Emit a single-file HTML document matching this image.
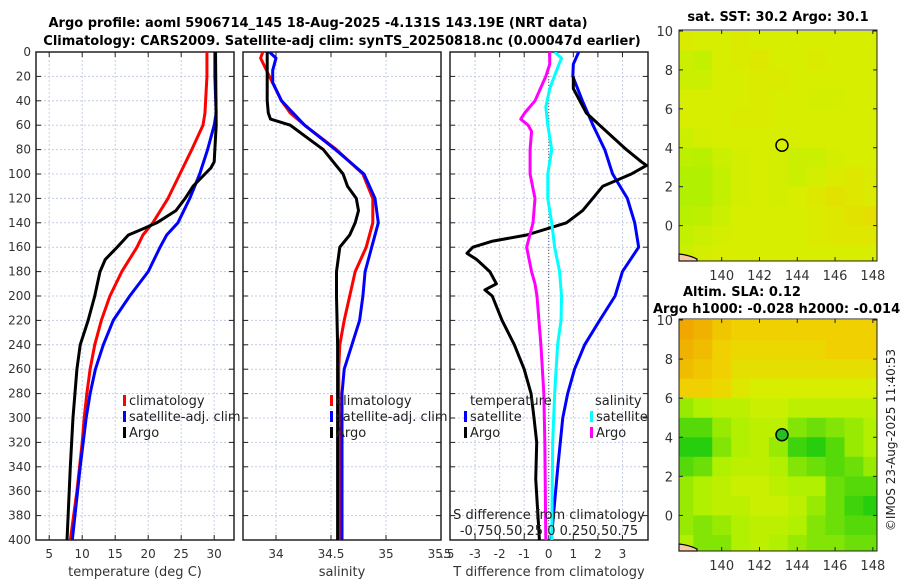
<!DOCTYPE html>
<html><head><meta charset="utf-8">
<style>
html,body{margin:0;padding:0;background:#fff;}
svg{display:block;font-family:"DejaVu Sans","Liberation Sans",sans-serif;}
</style></head>
<body>
<svg id="fig" width="900" height="580" viewBox="0 0 900 580" xmlns="http://www.w3.org/2000/svg">
<defs>
<clipPath id="c1"><rect x="36" y="52" width="198" height="488"/></clipPath>
<clipPath id="c2"><rect x="243" y="52" width="198" height="488"/></clipPath>
<clipPath id="c3"><rect x="450" y="52" width="198" height="488"/></clipPath>
<clipPath id="m1"><rect x="679" y="30" width="198" height="231"/></clipPath>
<clipPath id="m2"><rect x="679" y="319" width="198" height="232"/></clipPath>
</defs>
<text x="318" y="27" text-anchor="middle" font-size="13" font-weight="bold">Argo profile: aoml 5906714_145 18-Aug-2025 -4.131S 143.19E (NRT data)</text>
<text x="342" y="45" text-anchor="middle" font-size="13" font-weight="bold">Climatology: CARS2009. Satellite-adj clim: synTS_20250818.nc (0.00047d earlier)</text>
<g id="g1"></g>
<g id="g2"></g>
<g id="g3"></g>
<g id="gm1"></g>
<g id="gm2"></g>
<text x="778" y="21" text-anchor="middle" font-size="13" font-weight="bold">sat. SST: 30.2 Argo: 30.1</text>
<text x="683" y="296" font-size="13" font-weight="bold">Altim. SLA: 0.12</text>
<text x="653" y="313" font-size="13" font-weight="bold">Argo h1000: -0.028 h2000: -0.014</text>
<text transform="translate(895,440) rotate(-90)" text-anchor="middle" font-size="12" fill="#222">©IMOS 23-Aug-2025 11:40:53</text>
</svg>
<script>
const NS="http://www.w3.org/2000/svg";
// ---- data ----
const depthTicks=[0,20,40,60,80,100,120,140,160,180,200,220,240,260,280,300,320,340,360,380,400];
const tClimDepth=[0,20,50,60,80,100,120,140,150,160,180,200,220,240,260,280,300,320,340,360,400];
const tClim=[28.9,28.9,28.6,28.3,26.6,24.8,23.0,20.7,19.2,18.3,16.0,14.2,12.9,11.9,11.2,10.7,10.3,10.0,9.6,9.2,8.2];
const tSatDepth=[0,20,50,60,80,100,120,140,150,160,180,200,220,240,260,280,300,340,400];
const tSat=[30.1,30.1,30.3,30.0,29.0,27.8,26.3,24.5,22.8,21.8,20.0,17.2,14.7,13.2,12.0,11.2,10.6,9.7,8.5];
const tArgoDepth=[0,60,80,90,95,100,110,120,130,140,145,150,160,170,180,200,220,240,260,300,340,400];
const tArgo=[30.2,30.3,30.1,30.0,29.5,28.6,26.8,25.6,24.2,21.3,19.2,17.0,15.3,13.5,12.7,11.9,10.9,9.7,9.2,8.6,8.2,7.7];
const sClimDepth=[0,5,20,40,50,60,80,100,120,140,160,180,200,220,240,260,400];
const sClim=[33.88,33.86,33.94,34.05,34.13,34.26,34.55,34.79,34.88,34.88,34.82,34.72,34.67,34.62,34.58,34.57,34.58];
const sSatDepth=[0,5,15,25,40,60,80,100,120,140,160,180,200,220,240,260,280,400];
const sSat=[33.94,34.0,33.97,33.97,34.05,34.26,34.54,34.8,34.9,34.93,34.87,34.81,34.79,34.76,34.69,34.62,34.6,34.6];
const sArgoDepth=[0,20,40,50,55,60,70,80,90,100,110,120,130,140,150,160,180,200,240,400];
const sArgo=[33.92,33.92,33.92,33.93,33.95,34.13,34.28,34.43,34.52,34.61,34.65,34.73,34.75,34.72,34.67,34.58,34.55,34.55,34.56,34.56];
const dTSatDepth=[0,10,20,40,60,80,100,120,140,160,180,200,220,240,260,280,300,340,400];
const dTSat=[1.22,1.0,0.98,1.37,1.8,2.28,2.6,3.2,3.5,3.66,3.0,2.7,2.07,1.46,1.05,0.77,0.57,0.37,0.1];
const dTArgoDepth=[20,30,50,60,80,90,93,100,110,120,130,140,145,150,155,160,165,170,180,190,195,200,220,240,260,280,300,320,350,400];
const dTArgo=[1.0,1.0,1.53,2.07,3.16,3.77,3.98,3.36,2.2,1.79,1.38,0.72,-0.09,-0.9,-2.28,-3.09,-3.33,-2.94,-2.4,-2.13,-2.6,-2.3,-1.9,-1.4,-1.0,-0.72,-0.6,-0.49,-0.53,-0.38];
const dSArgoDepth=[0,10,20,40,50,55,60,65,80,100,120,140,160,180,190,200,240,280,320,400];
const dSArgo=[0.01,0.01,-0.03,-0.14,-0.245,-0.285,-0.21,-0.175,-0.19,-0.19,-0.14,-0.16,-0.225,-0.175,-0.14,-0.12,-0.08,-0.05,-0.04,-0.03];
const dSSatDepth=[0,5,15,30,45,60,80,100,120,140,160,180,200,220,240,280,320,400];
const dSSat=[0.06,0.13,0.08,0.01,-0.03,-0.01,0.03,-0.01,-0.01,0.03,0.06,0.11,0.13,0.125,0.09,0.06,0.04,0.03];
const tTicks=[5,10,15,20,25,30];
const sTicks=[34,34.5,35,35.5];
const sTickLabels=["34","34.5","35","35.5"];
const dTicks=[-3,-2,-1,0,1,2,3];
const mapLat=[10,8,6,4,2,0];
const mapLon=[140,142,144,146,148];
const cellLon=[138,139,140,141,142,143,144,145,146,147,148];
const cellLat=[9.5,8.5,7.5,6.5,5.5,4.5,3.5,2.5,1.5,0.5,-0.5,-1.5];
const sstGrid=[
[0.52,0.5,0.5,0.52,0.5,0.5,0.5,0.5,0.5,0.5,0.5],
[0.45,0.42,0.5,0.52,0.55,0.5,0.5,0.52,0.5,0.5,0.5],
[0.45,0.45,0.5,0.5,0.52,0.52,0.5,0.5,0.5,0.5,0.5],
[0.5,0.5,0.5,0.5,0.52,0.5,0.5,0.48,0.48,0.5,0.5],
[0.5,0.5,0.5,0.52,0.52,0.5,0.5,0.5,0.5,0.5,0.5],
[0.45,0.48,0.5,0.5,0.5,0.5,0.5,0.5,0.5,0.5,0.5],
[0.4,0.38,0.45,0.48,0.5,0.48,0.45,0.45,0.48,0.5,0.5],
[0.35,0.35,0.42,0.48,0.5,0.48,0.45,0.48,0.52,0.55,0.52],
[0.35,0.35,0.42,0.48,0.5,0.48,0.5,0.55,0.58,0.55,0.52],
[0.38,0.4,0.45,0.5,0.5,0.5,0.5,0.52,0.55,0.58,0.6],
[0.42,0.45,0.48,0.5,0.5,0.5,0.5,0.52,0.55,0.55,0.55],
[0.45,0.48,0.5,0.5,0.5,0.5,0.5,0.5,0.5,0.5,0.5]];
const slaGrid=[
[0.9,0.85,0.75,0.7,0.7,0.7,0.7,0.7,0.7,0.7,0.7],
[0.85,0.8,0.7,0.65,0.65,0.65,0.65,0.65,0.7,0.7,0.7],
[0.8,0.75,0.7,0.6,0.6,0.6,0.6,0.6,0.6,0.6,0.6],
[0.7,0.7,0.65,0.55,0.5,0.5,0.5,0.5,0.5,0.5,0.5],
[0.3,0.35,0.4,0.4,0.45,0.45,0.4,0.4,0.4,0.4,0.4],
[0.15,0.15,0.3,0.35,0.4,0.4,0.25,0.2,0.25,0.3,0.35],
[0.05,0.05,0.25,0.35,0.4,0.3,0.1,0.05,0.15,0.3,0.35],
[0.15,0.2,0.35,0.4,0.4,0.35,0.25,0.2,0.15,0.2,0.3],
[0.3,0.35,0.4,0.45,0.45,0.4,0.35,0.35,0.2,0.15,0.15],
[0.3,0.35,0.4,0.4,0.45,0.45,0.4,0.3,0.2,0.1,0.05],
[0.3,0.25,0.3,0.35,0.4,0.4,0.35,0.25,0.2,0.15,0.15],
[0.35,0.25,0.25,0.35,0.4,0.35,0.3,0.25,0.25,0.2,0.2]];
const argoLon=143.19, argoLat=4.13;

// ---- helpers ----
function el(tag,attrs,parent,txt){const e=document.createElementNS(NS,tag);for(const k in attrs)e.setAttribute(k,attrs[k]);if(txt!==undefined)e.textContent=txt;parent.appendChild(e);return e;}
const Y0=52,Y1=540;
const yD=d=>Y0+(d/400)*(Y1-Y0);
function panel(g,x0,xmin,xmax,ticks,labels,xlabel,clip,showY){
  const W=198; const sx=v=>x0+(v-xmin)/(xmax-xmin)*W;
  ticks.forEach((t,i)=>{
    const gl=el('line',{x1:sx(t),x2:sx(t),y1:Y0,y2:Y1,stroke:'#c4cce4','stroke-width':1,'stroke-dasharray':'2,2'},g);
    
    
    el('line',{x1:sx(t),x2:sx(t),y1:Y1,y2:Y1-5,stroke:'#222'},g);
    el('line',{x1:sx(t),x2:sx(t),y1:Y0,y2:Y0+5,stroke:'#222'},g);
    const tl=el('text',{x:sx(t),y:Y1+18,'text-anchor':'middle','font-size':12,fill:'#333'},g,labels[i]);
    
    
  });
  depthTicks.forEach(d=>{
    const gl=el('line',{x1:x0,x2:x0+W,y1:yD(d),y2:yD(d),stroke:'#c4cce4','stroke-width':1,'stroke-dasharray':'2,2'},g);
    
    
    el('line',{x1:x0,x2:x0+5,y1:yD(d),y2:yD(d),stroke:'#222'},g);
    el('line',{x1:x0+W-5,x2:x0+W,y1:yD(d),y2:yD(d),stroke:'#222'},g);
    if(showY){const tl=el('text',{x:x0-5,y:yD(d)+4,'text-anchor':'end','font-size':12,fill:'#333'},g,String(d));
      
      }
  });
  const fr=el('rect',{x:x0,y:Y0,width:W,height:Y1-Y0,fill:'none',stroke:'#222','stroke-width':1.5},g);
  
  
  if(xlabel){const xl=el('text',{x:x0+W/2,y:Y1+36,'text-anchor':'middle','font-size':13,fill:'#333'},g,xlabel);
    
    }
  return sx;
}
function line(g,sx,depths,vals,color,clip,name,scale){
  const pts=depths.map((d,i)=>sx(vals[i]*(scale||1))+','+yD(d)).join(' ');
  const p=el('polyline',{points:pts,fill:'none',stroke:color,'stroke-width':3,'stroke-linejoin':'round','clip-path':'url(#'+clip+')'},g);
  
  
}
function legend(g,x,y,color,label){
  const b=el('rect',{x:x,y:y-10,width:3,height:11,fill:color},g);
  
  
  const t=el('text',{x:x+6,y:y,'font-size':13,fill:'#222'},g,label);
  
  
}
// panel 1
const g1=document.getElementById('g1');
const sx1=panel(g1,36,3,33,tTicks,tTicks.map(String),'temperature (deg C)','c1',true);
line(g1,sx1,tClimDepth,tClim,'#ff0000','c1','climatology-temperature-line');
line(g1,sx1,tSatDepth,tSat,'#0000ff','c1','satellite-temperature-line');
line(g1,sx1,tArgoDepth,tArgo,'#000000','c1','argo-temperature-line');
legend(g1,123,405,'#ff0000','climatology');
legend(g1,123,421,'#0000ff','satellite-adj. clim');
legend(g1,123,437,'#000000','Argo');
// panel 2
const g2=document.getElementById('g2');
const sx2=panel(g2,243,33.7,35.5,sTicks,sTickLabels,'salinity','c2',false);
line(g2,sx2,sClimDepth,sClim,'#ff0000','c2','climatology-salinity-line');
line(g2,sx2,sSatDepth,sSat,'#0000ff','c2','satellite-salinity-line');
line(g2,sx2,sArgoDepth,sArgo,'#000000','c2','argo-salinity-line');
legend(g2,330,405,'#ff0000','climatology');
legend(g2,330,421,'#0000ff','satellite-adj. clim');
legend(g2,330,437,'#000000','Argo');
// panel 3
const g3=document.getElementById('g3');
const sx3=panel(g3,450,-4.02,4.04,dTicks,dTicks.map(String),'T difference from climatology','c3',false);
el('text',{x:440,y:558,'font-size':12,fill:'#333'},g3,'.5');
const zl=el('line',{x1:sx3(0),x2:sx3(0),y1:Y0,y2:Y1,stroke:'#555','stroke-width':1,'stroke-dasharray':'1,2'},g3);


line(g3,sx3,dTSatDepth,dTSat,'#0000ff','c3','satellite-temperature-diff-line');
line(g3,sx3,dTArgoDepth,dTArgo,'#000000','c3','argo-temperature-diff-line');
line(g3,sx3,dSSatDepth,dSSat,'#00ffff','c3','satellite-salinity-diff-line',4);
line(g3,sx3,dSArgoDepth,dSArgo,'#ff00ff','c3','argo-salinity-diff-line',4);
let t=el('text',{x:470,y:405,'font-size':13,fill:'#222'},g3,'temperature');


t=el('text',{x:595,y:405,'font-size':13,fill:'#222'},g3,'salinity');


legend(g3,464,421,'#0000ff','satellite');
legend(g3,464,437,'#000000','Argo');
legend(g3,590,421,'#00ffff','satellite');
legend(g3,590,437,'#ff00ff','Argo');
t=el('text',{x:549,y:519,'text-anchor':'middle','font-size':13,fill:'#222'},g3,'S difference from climatology');


t=el('text',{x:549,y:535,'text-anchor':'middle','font-size':13,fill:'#222'},g3,'-0.750.50.25 0 0.250.50.75');



// maps
function cmap(v){
  const stops=[[0,[16,200,16]],[0.35,[176,240,0]],[0.5,[216,238,0]],[0.7,[240,208,0]],[0.9,[240,168,0]]];
  if(v<=0)return 'rgb('+stops[0][1]+')';
  for(let i=1;i<stops.length;i++){if(v<=stops[i][0]){const a=stops[i-1],b=stops[i],f=(v-a[0])/(b[0]-a[0]);
    return 'rgb('+a[1].map((c,k)=>Math.round(c+(b[1][k]-c)*f)).join(',')+')';}}
  return 'rgb('+stops[stops.length-1][1]+')';
}
function map(g,top,bottom,grid,clip,filled,cellName){
  const x0=679,x1=877; const lx=v=>x0+(v-137.74)/(148.22-137.74)*(x1-x0);
  const y10=top+1, y0=y10+(bottom-top)*(10/11.87); const ly=v=>y10+(10-v)/10*(y0-y10);
  cellLat.forEach((la,r)=>cellLon.forEach((lo,c)=>{
    const cell=el('rect',{x:lx(lo-0.5),y:ly(la+0.5),width:lx(lo+0.5)-lx(lo-0.5)+0.5,height:ly(la-0.5)-ly(la+0.5)+0.5,fill:cmap(grid[r][c]),'clip-path':'url(#'+clip+')'},g);
    
    
  }));
  const coast=el('path',{d:`M${x0} ${bottom-7} Q${x0+10} ${bottom-6} ${x0+18} ${bottom-2} L${x0+18} ${bottom} L${x0} ${bottom} Z`,fill:'#f8c8a0',stroke:'#000','stroke-width':1.2},g);
  
  
  mapLat.forEach(v=>{el('line',{x1:x0,x2:x0+4,y1:ly(v),y2:ly(v),stroke:'#222'},g);el('line',{x1:x1-4,x2:x1,y1:ly(v),y2:ly(v),stroke:'#222'},g);
    const tl=el('text',{x:x0-6,y:ly(v)+5,'text-anchor':'end','font-size':13,fill:'#333'},g,String(v));
    
    });
  mapLon.forEach(v=>{el('line',{x1:lx(v),x2:lx(v),y1:bottom,y2:bottom-4,stroke:'#222'},g);el('line',{x1:lx(v),x2:lx(v),y1:top,y2:top+4,stroke:'#222'},g);
    const tl=el('text',{x:lx(v),y:bottom+19,'text-anchor':'middle','font-size':13,fill:'#333'},g,String(v));
    
    });
  const fr=el('rect',{x:x0,y:top,width:x1-x0,height:bottom-top,fill:'none',stroke:'#222','stroke-width':1},g);
  
  
  const m=el('circle',{cx:lx(argoLon),cy:ly(argoLat),r:6,fill:filled?'#22c022':'none',stroke:'#000','stroke-width':1.5},g);
  
  
}
map(document.getElementById('gm1'),30,261,sstGrid,'m1',false,'sst-cell');
map(document.getElementById('gm2'),319,551,slaGrid,'m2',true,'sla-cell');
</script>
</body></html>
